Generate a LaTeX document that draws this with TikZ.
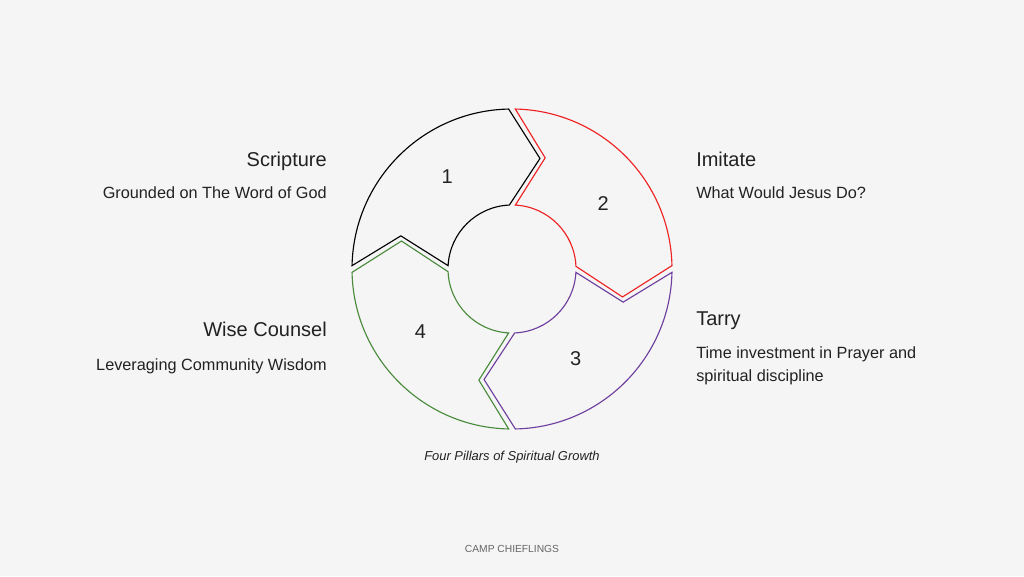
\documentclass[tikz,border=0pt]{standalone}
\usepackage{fontspec}
\setmainfont{Liberation Sans}
\usepackage{tikz}
\usetikzlibrary{positioning, calc}
\definecolor{paper}{HTML}{F5F5F5}
\definecolor{inkdark}{HTML}{222222}
\definecolor{pillarred}{HTML}{EE2222}
\definecolor{pillarpurple}{HTML}{6E3F9E}
\definecolor{pillargreen}{HTML}{4A8B3B}
\definecolor{footgray}{HTML}{666666}
\tikzset{
  pillar/.style={line width=0.85pt, line join=miter},
  headline/.style={font=\fontsize{15}{18}\selectfont, text=inkdark, inner sep=0pt},
  subline/.style={font=\fontsize{12.2}{17.5}\selectfont, text=inkdark, inner sep=0pt},
  numlabel/.style={font=\fontsize{15}{18}\selectfont, text=inkdark, inner sep=0pt}
}
\begin{document}
\begin{tikzpicture}[x=0.75pt, y=0.75pt]
	\fill[paper] (0,0) rectangle (1024,576);
	\pgfmathsetmacro{\outr}{160}
	\pgfmathsetmacro{\innr}{64}
	\begin{scope}[shift={(512,307)}]
	% 1: from left round to top
	\draw[pillar, black] (178.8:\outr) arc[start angle=178.8, end angle=91.2, radius=\outr] -- (75.8:114) -- (92.4:\innr) arc[start angle=92.4, end angle=177, radius=\innr] -- (163.4:116) -- cycle;
	% 2: top round to right
	\draw[pillar, pillarred] (88.8:\outr) arc[start angle=88.8, end angle=1.2, radius=\outr] -- (-14.2:114) -- (2.4:\innr) arc[start angle=2.4, end angle=87, radius=\innr] -- (73.4:116) -- cycle;
	% 3: right round to bottom
	\draw[pillar, pillarpurple] (-1.2:\outr) arc[start angle=-1.2, end angle=-88.8, radius=\outr] -- (-104.2:114) -- (-87.6:\innr) arc[start angle=-87.6, end angle=-3, radius=\innr] -- (-16.6:116) -- cycle;
	% 4: bottom round to left
	\draw[pillar, pillargreen] (-91.2:\outr) arc[start angle=-91.2, end angle=-178.8, radius=\outr] -- (-194.2:114) -- (-177.6:\innr) arc[start angle=-177.6, end angle=-93, radius=\innr] -- (-106.6:116) -- cycle;
	\node[numlabel] (num1) at (125:113) {1};
	\node[numlabel] (num2) at (35.5:112) {2};
	\node[numlabel] (num3) at (-54.6:110) {3};
	\node[numlabel] (num4) at (214.4:111) {4};
	\end{scope}
	% left side
	\node[headline, anchor=base east] (scripture) at (327,409.3) {Scripture};
	\node[subline, anchor=base east] (scripturesub) at (327,377.7) {Grounded on The Word of God};
	\node[headline, anchor=base east] (wisecounsel) at (327,239.3) {Wise Counsel};
	\node[subline, anchor=base east] (wisesub) at (327,206) {Leveraging Community Wisdom};
	% right side
	\node[headline, anchor=base west] (imitate) at (696,410) {Imitate};
	\node[subline, anchor=base west] (imitatesub) at (696,377.7) {What Would Jesus Do?};
	\node[headline, anchor=base west] (tarry) at (696,251) {Tarry};
	\node[subline, anchor=base west, align=left] (tarrysub) at (696,194.3) {Time investment in Prayer and\\spiritual discipline};
	% caption and footer
	\node[font=\fontsize{9.7}{12}\selectfont\itshape, text=inkdark, inner sep=0pt, anchor=base] (caption) at (512,116) {Four Pillars of Spiritual Growth};
	\node[font=\fontsize{7.7}{9}\selectfont, text=footgray, inner sep=0pt, anchor=base] (footer) at (512,24) {CAMP CHIEFLINGS};
\end{tikzpicture}
\end{document}
